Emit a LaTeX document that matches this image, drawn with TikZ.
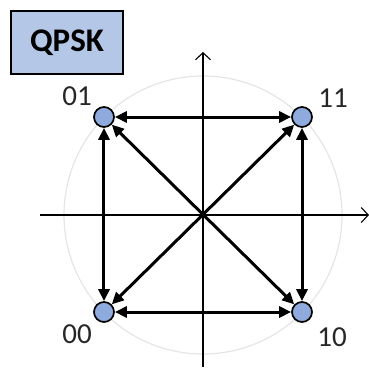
\documentclass[tikz,border=0pt]{standalone}
\usepackage{fontspec}
\setmainfont{Carlito}
\usetikzlibrary{positioning,arrows.meta}
\definecolor{boxblue}{HTML}{B4C7E7}
\definecolor{dotblue}{HTML}{8FAADC}
\tikzset{
  cstdot/.style={circle, draw=black, fill=dotblue, line width=1.7pt, minimum size=20pt, inner sep=0pt},
  cstbox/.style={rectangle, draw=black, fill=boxblue, line width=2.6pt, minimum width=112pt, minimum height=63pt, font=\fontsize{33}{36}\selectfont\bfseries},
  cstlbl/.style={font=\fontsize{29}{32}\selectfont, text=black!85},
  cstarr/.style={draw=black, line width=3pt, {Triangle[length=12pt,width=11pt]}-{Triangle[length=12pt,width=11pt]}},
  cstaxis/.style={draw=black, line width=1.2pt, -{Straight Barb[length=7pt,width=15pt,line width=1.1pt]}}
}
\begin{document}
\begin{tikzpicture}[x=1pt,y=1pt]
  \useasboundingbox (-203,-152) rectangle (166,215);
  \draw[gray!20, line width=1.2pt] (0,0) circle (139);
  \coordinate (o) at (0,0);
  \coordinate (xl) at (-163,0);
  \coordinate (xr) at (166,0);
  \coordinate (yb) at (0,-152);
  \coordinate (yt) at (0,163);
  \draw[cstaxis] (xl) -- (xr);
  \draw[cstaxis] (yb) -- (yt);
  \node[cstdot] (p01) at (-99,98) {};
  \node[cstdot] (p11) at (99,98) {};
  \node[cstdot] (p00) at (-99,-97) {};
  \node[cstdot] (p10) at (99,-97) {};
  \draw[cstarr] (p01) -- (p11);
  \draw[cstarr] (p00) -- (p10);
  \draw[cstarr] (p01) -- (p00);
  \draw[cstarr] (p11) -- (p10);
  \draw[cstarr] (p01) -- (p10);
  \draw[cstarr] (p11) -- (p00);
  \node[cstlbl] (l01) at (-126,119) {01};
  \node[cstlbl] (l11) at (130,117) {11};
  \node[cstlbl] (l00) at (-126,-119) {00};
  \node[cstlbl] (l10) at (129,-122) {10};
  \node[cstbox] (title) at (-136,172.5) {QPSK};
\end{tikzpicture}
\end{document}
